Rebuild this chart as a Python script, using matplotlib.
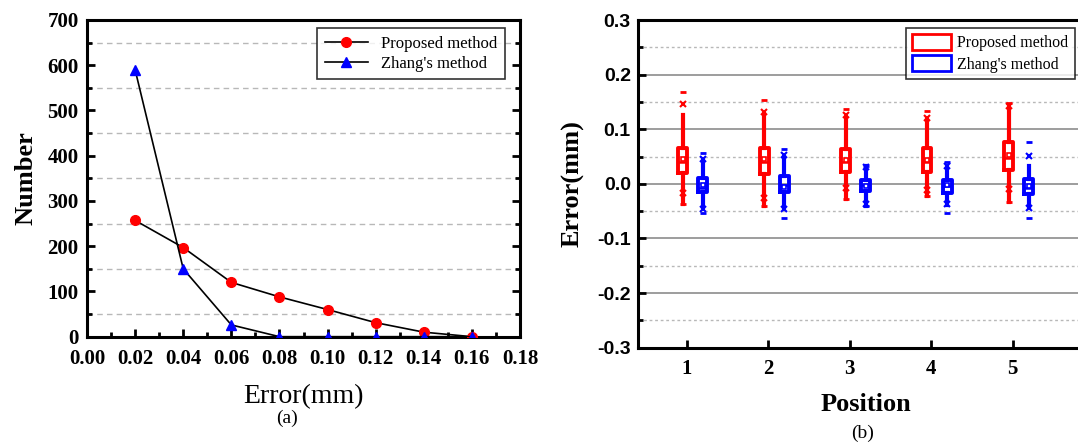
import numpy as np
import matplotlib
matplotlib.use("Agg")
import matplotlib.pyplot as plt
from matplotlib.patches import Patch
from matplotlib.ticker import MultipleLocator

plt.rcParams['font.family'] = 'Liberation Serif'

# (a) error distribution
error_bins = [0.02, 0.04, 0.06, 0.08, 0.10, 0.12, 0.14, 0.16]
proposed_count = [257, 197, 120, 88, 60, 31, 10, 0]
zhang_count = [590, 150, 26, 0, 0, 0, 0, 0]

# (b) box statistics per position
positions = [1, 2, 3, 4, 5]
prop_q1 = [0.020, 0.018, 0.022, 0.021, 0.026]
prop_q3 = [0.066, 0.065, 0.063, 0.065, 0.077]
prop_med = [0.040, 0.040, 0.040, 0.040, 0.048]
prop_mean = [0.045, 0.045, 0.044, 0.044, 0.053]
prop_lo = [-0.036, -0.041, -0.028, -0.022, -0.033]
prop_hi = [0.127, 0.128, 0.120, 0.118, 0.140]
prop_p1 = [-0.017, -0.025, -0.008, -0.012, -0.010]
prop_p99 = [0.146, 0.132, 0.126, 0.121, 0.142]
prop_min = [-0.036, -0.041, -0.028, -0.022, -0.033]
prop_max = [0.169, 0.154, 0.137, 0.133, 0.148]

zhang_q1 = [-0.015, -0.015, -0.013, -0.016, -0.018]
zhang_q3 = [0.011, 0.015, 0.007, 0.007, 0.008]
zhang_med = [-0.007, -0.002, -0.003, -0.004, -0.008]
zhang_mean = [-0.002, -0.006, -0.004, -0.003, -0.004]
zhang_lo = [-0.042, -0.042, -0.041, -0.039, -0.043]
zhang_hi = [0.043, 0.049, 0.032, 0.030, 0.033]
zhang_p1 = [-0.046, -0.046, -0.036, -0.036, -0.045]
zhang_p99 = [0.045, 0.052, 0.030, 0.032, 0.051]
zhang_min = [-0.054, -0.063, -0.041, -0.053, -0.063]
zhang_max = [0.057, 0.063, 0.032, 0.040, 0.076]


def box_stats(q1, q3, med, mean, lo, hi):
    return [dict(q1=a, q3=b, med=c, mean=d, whislo=e, whishi=f, fliers=[])
            for a, b, c, d, e, f in zip(q1, q3, med, mean, lo, hi)]


def draw_boxes(ax, stats, pos, color, p1, p99, vmin, vmax):
    ax.bxp(stats, positions=pos, widths=0.11, showmeans=True, showcaps=False,
           showfliers=False, manage_ticks=False,
           boxprops=dict(color=color, linewidth=2.8),
           whiskerprops=dict(color=color, linewidth=3.0),
           medianprops=dict(color=color, linewidth=1.8),
           meanprops=dict(marker='s', markersize=3, markerfacecolor='white',
                          markeredgecolor=color, markeredgewidth=1.2),
           zorder=3)
    ax.plot(pos, p1, 'x', color=color, ms=4, mew=1.5, zorder=4)
    ax.plot(pos, p99, 'x', color=color, ms=4, mew=1.5, zorder=4)
    ax.plot(pos, vmin, '_', color=color, ms=5, mew=2, zorder=4)
    ax.plot(pos, vmax, '_', color=color, ms=5, mew=2, zorder=4)


fig = plt.figure(figsize=(10.78, 4.44), dpi=100)

# ---- panel (a)
ax1 = fig.add_axes([0.0807, 0.2417, 0.4017, 0.7133])
ax1.plot(error_bins, proposed_count, color='black', lw=1.2, marker='o',
         ms=7, mfc='red', mec='red', label='Proposed method', zorder=3)
ax1.plot(error_bins, zhang_count, color='black', lw=1.2, marker='^',
         ms=7.5, mfc='blue', mec='blue', label="Zhang's method", zorder=3)
ax1.set_xlim(0, 0.18)
ax1.set_ylim(0, 700)
ax1.xaxis.set_major_locator(MultipleLocator(0.02))
ax1.xaxis.set_minor_locator(MultipleLocator(0.01))
ax1.yaxis.set_major_locator(MultipleLocator(100))
ax1.yaxis.set_minor_locator(MultipleLocator(50))
ax1.xaxis.set_major_formatter(lambda v, p: f'{v:.2f}')
for y in np.arange(50, 700, 100):
    ax1.axhline(y, color='#b8b8b8', lw=1.0, ls=(0, (4, 3)), zorder=1)
ax1.tick_params(which='both', direction='in', width=2, labelsize=15,
                left=True, right=True, top=False, bottom=True)
ax1.tick_params(which='major', length=6)
ax1.tick_params(which='minor', length=3.5)
ax1.tick_params(axis='x', pad=9)
ax1.tick_params(axis='y', pad=6)
for lab in ax1.get_xticklabels() + ax1.get_yticklabels():
    lab.set_fontweight('bold')
for s in ax1.spines.values():
    s.set_linewidth(2.2)
ax1.set_xlabel('Error(mm)', fontsize=20, labelpad=11)
ax1.set_ylabel('Number', fontsize=19, fontweight='bold', labelpad=7)
leg1 = ax1.legend(loc='upper right', fontsize=12, frameon=True, fancybox=False,
                  edgecolor='black', handlelength=2.6, borderpad=0.45,
                  labelspacing=0.25, bbox_to_anchor=(0.985, 1.0))
leg1.get_frame().set_linewidth(1.2)
fig.text(0.266, 0.058, '(a)', fontsize=14, ha='center', va='center')

# ---- panel (b)
ax2 = fig.add_axes([0.5916, 0.2169, 0.4233, 0.7380])
draw_boxes(ax2, box_stats(prop_q1, prop_q3, prop_med, prop_mean, prop_lo, prop_hi),
           [p - 0.05 for p in positions], 'red', prop_p1, prop_p99, prop_min, prop_max)
draw_boxes(ax2, box_stats(zhang_q1, zhang_q3, zhang_med, zhang_mean, zhang_lo, zhang_hi),
           [p + 0.2 for p in positions], 'blue', zhang_p1, zhang_p99, zhang_min, zhang_max)
ax2.set_xlim(0.4, 6.0)
ax2.set_ylim(-0.3, 0.3)
ax2.set_xticks(positions)
ax2.yaxis.set_major_locator(MultipleLocator(0.1))
ax2.yaxis.set_minor_locator(MultipleLocator(0.05))
ax2.xaxis.set_minor_locator(plt.NullLocator())
ax2.yaxis.set_major_formatter(lambda v, p: f'{v:.1f}')
for y in [-0.2, -0.1, 0.0, 0.1, 0.2]:
    ax2.axhline(y, color='#8c8c8c', lw=1.2, zorder=1)
for y in [-0.25, -0.15, -0.05, 0.05, 0.15, 0.25]:
    ax2.axhline(y, color='#b8b8b8', lw=1.0, ls=(0, (2, 2)), zorder=1)
ax2.tick_params(which='both', direction='in', width=2, left=True, right=False,
                top=False, bottom=True)
ax2.tick_params(which='major', length=6)
ax2.tick_params(which='minor', length=3.5)
ax2.tick_params(axis='x', labelsize=15, pad=8)
ax2.tick_params(axis='y', labelsize=14, pad=5)
for lab in ax2.get_xticklabels():
    lab.set_fontweight('bold')
for lab in ax2.get_yticklabels():
    lab.set_fontweight('bold')
    lab.set_fontfamily('Liberation Sans')
for s in ax2.spines.values():
    s.set_linewidth(2.2)
ax2.set_xlabel('Position', fontsize=19, fontweight='bold', labelpad=10)
ax2.set_ylabel('Error(mm)', fontsize=19, fontweight='bold', labelpad=9)
handles = [Patch(facecolor='white', edgecolor='red', linewidth=2),
           Patch(facecolor='white', edgecolor='blue', linewidth=2)]
leg2 = ax2.legend(handles, ['Proposed method', "Zhang's method"], loc='upper right',
                  fontsize=11.5, frameon=True, fancybox=False, edgecolor='black',
                  handlelength=2.4, handleheight=1.1, borderpad=0.4,
                  labelspacing=0.25, handletextpad=0.4, bbox_to_anchor=(0.975, 1.0))
leg2.get_frame().set_linewidth(1.2)
fig.text(0.80, 0.025, '(b)', fontsize=14, ha='center', va='center')

fig.savefig('out.png', dpi=100)
